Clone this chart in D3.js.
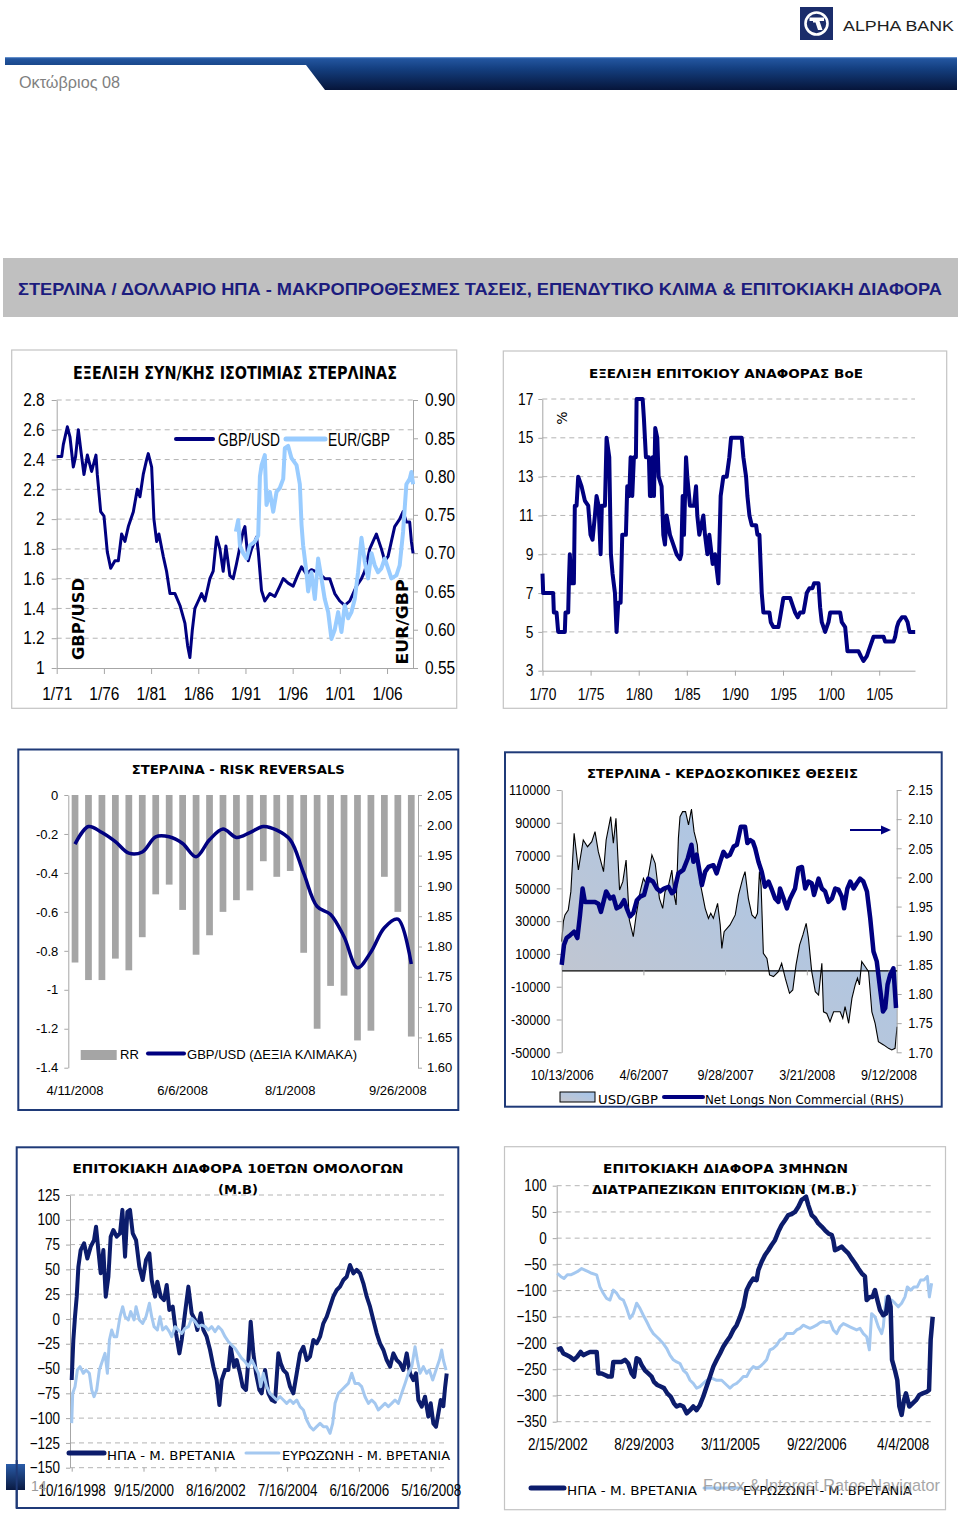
<!DOCTYPE html>
<html><head><meta charset="utf-8">
<script src="https://cdn.jsdelivr.net/npm/d3@7"></script>
<style>body{margin:0;background:#fff}svg{display:block}</style>
</head><body>
<svg id="page" width="960" height="1516"></svg>
<script>
// ================= DATA =================
// Chart 1: GBP/USD (left) & EUR/GBP (right), [year, value]
const c1LeftTicks = [1, 1.2, 1.4, 1.6, 1.8, 2, 2.2, 2.4, 2.6, 2.8];
const c1RightTicks = [0.55, 0.60, 0.65, 0.70, 0.75, 0.80, 0.85, 0.90];
const c1XTicks = [1971, 1976, 1981, 1986, 1991, 1996, 2001, 2006];
const c1XLabels = ["1/71", "1/76", "1/81", "1/86", "1/91", "1/96", "1/01", "1/06"];
const gbpusdLong = [[1971.0,2.42],[1971.53,2.42],[1971.7,2.5],[1972.13,2.62],[1972.41,2.55],[1972.76,2.35],[1973.0,2.42],[1973.29,2.6],[1973.58,2.45],[1973.89,2.3],[1974.25,2.43],[1974.7,2.32],[1975.16,2.43],[1975.3,2.3],[1975.66,2.05],[1976.01,2.02],[1976.36,1.78],[1976.72,1.67],[1977.17,1.72],[1977.53,1.72],[1977.88,1.9],[1978.23,1.85],[1978.59,1.95],[1979.12,2.05],[1979.54,2.2],[1979.82,2.15],[1980.17,2.3],[1980.53,2.4],[1980.7,2.44],[1981.06,2.35],[1981.3,2.0],[1981.59,1.85],[1981.83,1.9],[1982.29,1.75],[1982.64,1.65],[1983.0,1.5],[1983.53,1.5],[1984.06,1.42],[1984.59,1.3],[1984.87,1.15],[1985.11,1.07],[1985.36,1.25],[1985.64,1.4],[1986.0,1.45],[1986.35,1.5],[1986.7,1.45],[1987.23,1.6],[1987.58,1.65],[1987.94,1.88],[1988.29,1.8],[1988.64,1.65],[1988.93,1.82],[1989.35,1.62],[1989.7,1.6],[1990.05,1.7],[1990.76,1.92],[1990.94,1.95],[1991.29,1.72],[1991.65,1.8],[1992.18,1.88],[1992.36,1.78],[1992.7,1.52],[1993.05,1.45],[1993.58,1.5],[1994.11,1.48],[1994.64,1.55],[1995.0,1.6],[1995.52,1.57],[1996.05,1.55],[1996.58,1.63],[1996.94,1.68],[1997.46,1.63],[1997.99,1.66],[1998.7,1.64],[1999.4,1.6],[1999.93,1.6],[2000.46,1.5],[2000.99,1.45],[2001.52,1.42],[2002.05,1.45],[2002.76,1.55],[2003.29,1.6],[2003.64,1.65],[2004.17,1.8],[2004.52,1.85],[2004.87,1.9],[2005.4,1.8],[2005.76,1.72],[2006.11,1.75],[2006.46,1.85],[2006.81,1.95],[2007.34,2.0],[2007.7,2.05],[2008.05,1.98],[2008.4,1.98],[2008.58,1.85],[2008.76,1.77]];
const eurgbpLong = [[1989.98,0.728],[1990.23,0.743],[1990.41,0.71],[1990.76,0.70],[1991.11,0.693],[1991.47,0.71],[1992.0,0.715],[1992.35,0.723],[1992.53,0.80],[1992.71,0.815],[1993.05,0.828],[1993.23,0.763],[1993.58,0.78],[1993.94,0.754],[1994.29,0.78],[1994.64,0.785],[1995.0,0.797],[1995.17,0.837],[1995.52,0.84],[1995.88,0.824],[1996.41,0.815],[1996.76,0.79],[1996.94,0.737],[1997.11,0.71],[1997.46,0.675],[1997.64,0.65],[1997.99,0.675],[1998.35,0.64],[1998.7,0.693],[1999.05,0.667],[1999.4,0.64],[1999.76,0.623],[2000.11,0.588],[2000.46,0.60],[2000.82,0.623],[2001.17,0.597],[2001.52,0.632],[2001.88,0.615],[2002.23,0.623],[2002.58,0.64],[2002.93,0.675],[2003.29,0.72],[2003.64,0.689],[2003.99,0.667],[2004.35,0.70],[2004.7,0.684],[2005.05,0.675],[2005.4,0.68],[2005.76,0.693],[2006.11,0.68],[2006.46,0.667],[2006.99,0.671],[2007.34,0.684],[2007.7,0.728],[2008.05,0.79],[2008.4,0.797],[2008.58,0.806],[2008.76,0.79]];

// Chart 2: BoE base rate, [year, %]
const c2YTicks = [3, 5, 7, 9, 11, 13, 15, 17];
const c2XTicks = [1970, 1975, 1980, 1985, 1990, 1995, 2000, 2005];
const c2XLabels = ["1/70", "1/75", "1/80", "1/85", "1/90", "1/95", "1/00", "1/05"];
const boeRate = [[1970.0,8],[1970.07,7],[1971.11,7],[1971.18,6],[1971.46,6],[1971.63,5],[1972.32,5],[1972.39,6],[1972.67,6],[1972.74,7.5],[1972.84,9],[1973.02,7.5],[1973.26,7.5],[1973.36,11.5],[1973.54,11.5],[1973.71,13],[1974.06,12.5],[1974.41,11.75],[1974.75,11.5],[1974.99,10],[1975.2,9.75],[1975.45,11],[1975.62,12],[1975.83,11.5],[1976.04,9],[1976.17,11.5],[1976.49,11.5],[1976.66,15],[1976.94,14],[1977.11,9],[1977.28,8],[1977.53,7],[1977.7,5],[1977.87,6.5],[1978.12,6.5],[1978.29,10],[1978.67,10],[1978.81,12.5],[1979.02,12],[1979.16,14],[1979.33,12],[1979.5,14],[1979.71,14],[1979.78,17],[1980.41,17],[1980.54,16],[1980.75,14],[1981.06,14],[1981.17,12],[1981.34,12],[1981.45,14],[1981.59,12],[1981.72,15.5],[1981.93,15],[1982.07,13],[1982.38,12.5],[1982.56,10],[1982.73,9.5],[1982.9,11],[1983.25,10],[1983.6,9.5],[1983.94,9],[1984.29,8.75],[1984.43,9],[1984.57,12],[1984.71,10],[1984.92,14],[1985.05,13],[1985.33,11.5],[1985.75,11.5],[1985.96,12.5],[1986.09,11],[1986.3,10],[1986.72,11],[1986.89,10],[1987.14,9],[1987.34,10],[1987.69,8.5],[1987.93,9],[1988.28,7.5],[1988.52,12],[1988.8,13],[1989.15,13],[1989.42,14],[1989.6,15],[1990.71,15],[1990.88,14],[1991.16,13],[1991.3,12],[1991.51,11],[1991.75,10.5],[1992.2,10.5],[1992.34,10],[1992.55,10],[1992.79,7],[1992.96,6],[1993.59,6],[1993.73,5.5],[1994.0,5.25],[1994.52,5.25],[1994.7,5.75],[1994.87,6.25],[1995.04,6.75],[1995.74,6.75],[1996.08,6.25],[1996.26,6],[1996.53,5.75],[1996.78,6],[1997.12,6],[1997.3,6.5],[1997.47,7],[1997.75,7.25],[1998.06,7.25],[1998.23,7.5],[1998.69,7.5],[1998.86,6.25],[1999.03,5.5],[1999.38,5],[1999.73,5.5],[1999.9,6],[2000.94,6],[2001.11,5.5],[2001.46,5.25],[2001.7,4],[2002.85,4],[2003.09,3.75],[2003.37,3.5],[2003.71,3.75],[2004.06,4.25],[2004.41,4.75],[2005.45,4.75],[2005.62,4.5],[2006.49,4.5],[2006.66,4.75],[2006.84,5.25],[2007.01,5.5],[2007.36,5.75],[2007.7,5.75],[2007.95,5.5],[2008.15,5],[2008.74,5]];

// Chart 3: Risk reversals (bars, left) & GBP/USD (line, right), weekly
const rrWeeks = ["4/11/2008","4/18/2008","4/25/2008","5/2/2008","5/9/2008","5/16/2008","5/23/2008","5/30/2008","6/6/2008","6/13/2008","6/20/2008","6/27/2008","7/4/2008","7/11/2008","7/18/2008","7/25/2008","8/1/2008","8/8/2008","8/15/2008","8/22/2008","8/29/2008","9/5/2008","9/12/2008","9/19/2008","9/26/2008","10/3/2008"];
const rrLabelWeeks = ["4/11/2008","6/6/2008","8/1/2008","9/26/2008"];
const rrValues = [-0.86,-0.95,-0.95,-0.84,-0.90,-0.73,-0.51,-0.46,-0.59,-0.82,-0.72,-0.60,-0.54,-0.49,-0.34,-0.42,-0.39,-0.81,-1.20,-0.98,-1.03,-1.26,-1.21,-0.42,-0.60,-1.24];
const rrGbpusd = [1.969,1.998,1.988,1.973,1.954,1.956,1.981,1.981,1.970,1.948,1.976,1.994,1.980,1.988,1.998,1.992,1.976,1.921,1.866,1.853,1.816,1.765,1.791,1.831,1.845,1.771];
const c3LeftTicks = [0, -0.2, -0.4, -0.6, -0.8, -1, -1.2, -1.4];
const c3RightTicks = [1.60, 1.65, 1.70, 1.75, 1.80, 1.85, 1.90, 1.95, 2.00, 2.05];

// Chart 4: speculative positions (area, left) & line (right), [week index from 10/13/2006, value]
const c4LeftTicks = [-50000, -30000, -10000, 10000, 30000, 50000, 70000, 90000, 110000];
const c4RightTicks = [1.70, 1.75, 1.80, 1.85, 1.90, 1.95, 2.00, 2.05, 2.10, 2.15];
const c4XTicks = [0, 25, 50, 75, 100];
const c4XLabels = ["10/13/2006", "4/6/2007", "9/28/2007", "3/21/2008", "9/12/2008"];
const netLongs = [[0,17500],[0.5,29700],[1.0,33800],[2.0,36800],[2.8,48000],[3.8,83600],[5.1,61200],[6.6,79500],[7.9,75400],[9.2,78500],[10.2,84600],[11.2,72400],[12.8,60200],[13.6,79500],[15.0,93700],[15.8,77500],[16.6,92700],[17.7,49000],[18.7,54100],[19.7,67300],[20.7,30700],[21.9,20500],[22.8,33800],[24.0,48000],[25.0,56100],[26.0,52000],[27.6,70400],[28.6,65300],[29.9,43900],[30.9,37800],[31.6,48000],[32.7,52000],[33.7,61200],[34.4,46000],[35.0,39900],[35.7,80500],[36.2,93700],[37.0,96800],[37.9,96800],[38.8,88700],[39.7,98400],[40.5,84600],[41.5,76500],[42.3,54100],[43.9,37800],[44.9,31700],[45.6,34800],[46.4,31700],[47.7,40900],[48.5,27700],[49.0,13400],[49.7,23600],[51.5,27700],[53.1,33800],[54.1,46000],[55.4,56100],[56.1,60200],[57.1,43900],[58.2,33800],[59.2,31700],[59.9,34800],[60.5,60200],[61.0,52000],[61.7,10400],[62.8,7300],[63.6,-2800],[64.8,-3800],[66.3,-800],[67.3,4300],[68.4,-4800],[69.7,-14000],[70.7,-12000],[71.7,3300],[72.8,15500],[73.8,21600],[74.8,28700],[75.5,19500],[76.5,-800],[77.6,-13000],[78.6,-15100],[79.6,4300],[80.1,-25300],[81.1,-26300],[82.1,-31300],[83.2,-25300],[84.2,-25300],[85.2,-25300],[86.0,-29300],[86.7,-22100],[87.8,-32300],[88.8,-17100],[89.8,-8900],[90.5,-4800],[91.1,-8900],[91.8,5300],[92.9,2200],[93.9,-800],[94.9,-25300],[95.9,-32300],[96.9,-43500],[98.5,-45500],[100.0,-47600],[101.0,-48600],[102.0,-47600],[102.6,-34400]];
const usdgbpWeekly = [[0,1.85],[0.7,1.884],[1.5,1.896],[2.6,1.901],[3.8,1.907],[4.8,1.896],[5.6,1.935],[6.4,1.981],[7.1,1.958],[8.7,1.958],[10.2,1.958],[11.2,1.955],[12.0,1.941],[13.6,1.976],[14.8,1.964],[15.8,1.967],[16.8,1.947],[17.9,1.95],[19.1,1.961],[19.9,1.947],[20.9,1.933],[21.9,1.939],[23.0,1.961],[24.0,1.967],[25.2,1.97],[26.5,1.998],[27.9,1.993],[29.1,1.981],[30.1,1.976],[31.3,1.981],[32.7,1.984],[33.7,1.973],[34.4,1.976],[35.7,2.007],[37.2,2.013],[38.6,2.033],[39.7,2.056],[40.3,2.027],[41.3,2.039],[42.9,1.987],[43.9,2.01],[44.9,2.018],[46.4,2.021],[47.4,2.007],[48.5,2.027],[49.5,2.044],[50.5,2.036],[51.5,2.039],[52.6,2.053],[53.6,2.056],[54.8,2.087],[56.1,2.087],[56.8,2.059],[57.7,2.064],[58.5,2.061],[59.2,2.05],[60.2,2.027],[61.2,2.01],[62.2,1.984],[63.3,1.993],[64.3,1.979],[65.3,1.964],[66.3,1.958],[66.8,1.981],[67.7,1.967],[68.9,1.947],[69.9,1.964],[71.4,1.981],[72.4,2.016],[73.5,2.018],[74.5,1.981],[75.5,1.993],[76.5,1.99],[77.2,1.97],[78.6,1.998],[79.6,1.981],[80.6,1.976],[81.6,1.958],[82.7,1.964],[83.7,1.981],[84.7,1.979],[85.7,1.967],[86.4,1.947],[87.4,1.981],[88.3,1.993],[89.3,1.981],[90.3,1.99],[91.3,1.998],[92.3,1.993],[93.4,1.976],[94.4,1.93],[95.4,1.873],[96.4,1.856],[97.4,1.81],[98.3,1.77],[99.0,1.776],[99.7,1.816],[100.5,1.833],[101.5,1.844],[102.3,1.776]];

// Chart 5: 10y bond spreads (bp), [week index from 10/16/1998, value]
const c5YTicks = [-150, -125, -100, -75, -50, -25, 0, 25, 50, 75, 100, 125];
const c5XTicks = [0, 100, 200, 300, 400, 500];
const c5XLabels = ["10/16/1998", "9/15/2000", "8/16/2002", "7/16/2004", "6/16/2006", "5/16/2008"];
const us10Spread = [[0,-61.6],[2.3,-21],[4.6,2.3],[7.0,22.5],[9.3,52.7],[12.5,69.5],[17.2,76.3],[21.8,61],[26.5,72.9],[31.1,79.6],[33.9,93],[37.1,69.5],[40.4,46],[44.1,69.5],[47.4,22.5],[51.1,42.6],[54.3,83],[58.0,89.7],[62.7,83],[67.3,86.3],[70.6,110],[74.3,62.8],[77.5,108],[81.2,110],[85.0,86.3],[89.6,79.6],[94.2,52.7],[98.9,39.3],[103.5,59.5],[108.2,66.2],[111.4,39.3],[116.1,22.5],[119.3,37.6],[124.0,22.5],[128.6,19.1],[132.3,34.2],[136.0,9.1],[140.7,12.4],[145.3,-14.5],[150.0,-34.7],[153.2,-21.2],[157.8,5.7],[162.5,32.6],[167.1,5.7],[171.8,-1],[175.0,-11.1],[179.7,5.7],[183.4,-11.1],[188.0,-17.9],[192.7,-31.3],[197.3,-48.1],[201.9,-61.6],[205.7,-86.8],[208.9,-61.6],[213.6,-51.5],[218.2,-51.5],[221.4,-28],[226.1,-48.1],[229.8,-41.4],[234.4,-54.8],[238.2,-68.3],[242.8,-71.6],[246.1,-41.4],[249.3,-2.7],[253.0,-34.7],[256.7,-54.8],[261.4,-71.6],[264.6,-75],[269.3,-51.5],[273.9,-75],[278.6,-81.7],[283.2,-83.4],[287.8,-34.7],[291.1,-44.7],[294.8,-51.5],[299.4,-54.8],[304.1,-68.3],[308.7,-75],[313.4,-54.8],[318.0,-34.7],[322.7,-28],[327.3,-41.4],[331.9,-38],[336.6,-21.2],[341.2,-24.6],[345.9,-17.9],[350.5,-4.4],[355.2,2.3],[359.8,12.4],[364.4,22.5],[369.1,29.2],[373.7,32.6],[378.4,39.3],[383.0,42.6],[387.6,54.4],[392.3,46],[396.9,49.4],[401.6,46],[406.2,35.9],[410.9,22.5],[415.5,12.4],[420.1,-1],[424.8,-14.5],[429.4,-24.6],[434.1,-31.3],[438.7,-41.4],[443.4,-48.1],[448.0,-34.7],[452.6,-41.4],[457.3,-44.7],[461.9,-51.5],[466.6,-34.7],[471.2,-54.8],[475.9,-61.6],[479.6,-54.8],[482.8,-81.7],[487.5,-88.4],[492.1,-78.4],[496.7,-98.5],[500.0,-85.1],[503.7,-105.3],[507.4,-108.6],[510.7,-95.2],[513.9,-81.7],[517.6,-88],[519.9,-70],[522.3,-55]];
const eu10Spread = [[0,-105],[1.4,-75],[4.6,-68.3],[7.9,-51.5],[11.6,-48.1],[16.2,-54.8],[20.0,-51.5],[24.6,-54.8],[27.9,-71.6],[31.1,-78.4],[34.8,-71.6],[38.5,-51.5],[43.2,-41.4],[46.4,-34.7],[49.7,-54.8],[52.5,-21.2],[55.7,-11.1],[59.0,-17.9],[62.7,-17.9],[67.3,2.3],[71.0,12.4],[74.3,2.3],[78.9,-1],[82.2,7.4],[86.8,-1],[89.6,12.4],[94.2,-1],[98.9,-4.4],[103.5,2.3],[108.2,15.8],[111.4,2.3],[114.7,-7.8],[119.3,-11.1],[123.0,2.3],[126.7,-11.1],[131.4,-7.8],[136.0,-12.8],[139.3,-17.9],[143.9,-7.8],[148.6,-11.1],[153.2,-14.5],[157.8,-9.5],[162.5,-7.8],[167.1,0.6],[171.8,-2.7],[176.4,-7.8],[181.1,-6.1],[185.7,-7.8],[190.3,-11.1],[195.0,-7.8],[199.6,-12.8],[204.3,-7.8],[208.9,-11.1],[213.6,-17.9],[218.2,-22.9],[222.8,-26.3],[227.5,-29.6],[232.1,-34.7],[236.8,-39.7],[241.4,-43],[246.1,-48.1],[250.7,-41.4],[255.3,-48.1],[260.0,-54.8],[263.2,-68.3],[266.9,-54.8],[271.6,-68.3],[276.2,-75],[280.9,-78.4],[285.5,-81.7],[290.2,-78.4],[294.8,-81.7],[299.4,-85.1],[304.1,-81.7],[308.7,-85.1],[313.4,-81.7],[318.0,-88.4],[322.7,-91.8],[327.3,-101.9],[331.9,-108.6],[336.6,-112],[341.2,-108.6],[345.9,-105.3],[350.5,-108.6],[355.2,-108.6],[359.8,-115.3],[363.5,-105.3],[366.8,-85.1],[371.4,-75],[376.0,-71.6],[380.7,-68.3],[385.3,-65],[390.0,-54.8],[394.6,-65],[399.3,-65],[403.9,-68.3],[408.5,-78.4],[413.2,-85.1],[417.8,-81.7],[422.5,-85.1],[427.1,-91.8],[431.8,-88.4],[436.4,-85.1],[441.0,-88.4],[445.7,-85.1],[450.3,-81.7],[455.0,-85.1],[459.6,-75],[464.3,-65],[468.9,-54.8],[473.6,-48.1],[478.2,-28],[481.4,-41.4],[485.1,-54.8],[489.8,-48.1],[494.4,-54.8],[498.1,-51.5],[502.8,-61.6],[507.4,-51.5],[512.1,-41.4],[515.3,-31.3],[517.6,-41.4],[521.4,-51.5]];

// Chart 6: 3m interbank spreads (bp), [week index from 2/15/2002, value]
const c6YTicks = [-350, -300, -250, -200, -150, -100, -50, 0, 50, 100];
const c6XTicks = [0, 80, 160, 240, 320];
const c6XLabels = ["2/15/2002", "8/29/2003", "3/11/2005", "9/22/2006", "4/4/2008"];
const us3mSpread = [[0,-213],[3.1,-210],[5.6,-220],[8.6,-223],[11.7,-226],[15.4,-232],[18.5,-226],[21.6,-217],[24.1,-223],[27.2,-220],[30.3,-217],[34.0,-217],[36.5,-217],[38.0,-258],[41.1,-258],[44.2,-261],[47.3,-264],[50.4,-264],[51.9,-236],[55.0,-236],[59.6,-236],[62.7,-232],[65.8,-239],[68.9,-258],[71.1,-264],[73.5,-229],[76.0,-232],[78.2,-242],[81.2,-252],[84.3,-258],[87.4,-264],[89.6,-274],[92.7,-280],[95.8,-283],[98.9,-286],[101.9,-296],[105.0,-302],[108.1,-315],[110.6,-321],[113.7,-318],[116.8,-321],[119.9,-334],[123.0,-328],[126.0,-321],[129.1,-328],[132.2,-318],[135.3,-302],[138.4,-283],[141.5,-264],[144.6,-245],[147.7,-232],[150.8,-220],[153.8,-207],[156.9,-197],[160.0,-188],[163.1,-175],[166.2,-166],[169.3,-150],[172.4,-131],[175.5,-99],[178.6,-86],[181.6,-77],[184.7,-80],[186.3,-61],[189.4,-45],[192.5,-32],[195.6,-23],[198.6,-13],[201.7,-4],[204.8,12],[207.9,25],[211.0,34],[214.1,44],[217.2,46],[220.3,50],[223.4,60],[226.4,73],[228.6,76],[230.5,79],[232.6,63],[235.7,44],[238.8,38],[241.9,28],[245.0,22],[248.1,15],[251.2,9],[254.3,6],[255.8,-4],[257.3,-23],[260.4,-20],[263.5,-16],[266.6,-23],[269.7,-29],[272.8,-39],[275.9,-48],[279.0,-58],[282.1,-67],[285.1,-73],[286.7,-118],[289.8,-112],[292.2,-112],[294.4,-99],[296.6,-118],[299.0,-137],[302.1,-147],[304.6,-144],[306.8,-112],[308.9,-131],[310.2,-232],[312.9,-252],[315.1,-271],[317.0,-321],[319.1,-337],[321.3,-309],[323.1,-296],[326.2,-321],[329.3,-315],[332.4,-309],[335.5,-299],[338.6,-296],[342.3,-293],[344.5,-290],[346.0,-194],[347.9,-150]];
const eu3mSpread = [[0,-67],[3.1,-73],[6.2,-77],[9.3,-70],[12.4,-70],[15.4,-67],[18.5,-64],[22.6,-58],[25.6,-61],[28.7,-64],[31.8,-67],[36.5,-70],[39.5,-93],[42.6,-105],[45.7,-115],[48.8,-118],[51.9,-99],[55.0,-105],[58.1,-115],[61.2,-118],[64.3,-134],[67.3,-153],[70.4,-144],[73.5,-124],[76.6,-134],[79.7,-147],[82.8,-159],[85.9,-172],[89.0,-182],[92.1,-188],[95.1,-194],[98.2,-201],[101.3,-210],[104.4,-223],[107.5,-232],[110.6,-236],[113.7,-239],[116.8,-252],[119.9,-258],[123.0,-271],[126.0,-277],[129.1,-286],[132.2,-283],[135.3,-277],[138.4,-271],[143.0,-267],[147.7,-271],[152.3,-271],[156.9,-280],[160.0,-286],[163.1,-280],[166.2,-277],[169.3,-271],[172.4,-264],[175.5,-264],[178.6,-252],[181.6,-245],[184.7,-248],[187.8,-245],[190.9,-239],[194.0,-232],[197.1,-213],[200.2,-210],[203.3,-204],[206.4,-194],[209.5,-191],[212.5,-182],[215.6,-182],[218.7,-182],[221.8,-175],[224.9,-172],[228.0,-166],[231.1,-169],[234.2,-172],[237.3,-169],[240.3,-166],[243.4,-161],[246.5,-159],[249.6,-161],[252.7,-159],[255.8,-175],[258.9,-182],[262.0,-169],[265.1,-163],[268.1,-166],[271.2,-169],[274.3,-172],[277.4,-175],[280.5,-172],[283.6,-182],[286.7,-188],[289.2,-213],[291.3,-144],[294.4,-150],[297.5,-169],[300.6,-182],[302.1,-169],[304.6,-112],[306.8,-118],[309.9,-118],[312.9,-124],[316.0,-131],[319.1,-124],[322.2,-112],[324.4,-93],[327.5,-99],[330.6,-93],[333.6,-93],[336.7,-80],[339.8,-80],[342.9,-73],[344.8,-112],[346.9,-86]];

// ================= DRAWING =================
const svg = d3.select('#page');
const ARIAL = "'Liberation Sans',Arial,Helvetica,sans-serif";
const DV = "'DejaVu Sans',Verdana,sans-serif";
const DVC = "'DejaVu Sans Condensed','DejaVu Sans',sans-serif";
const NAVY = '#000080', LBLUE = '#99ccff', AXC = '#a6a6a6', GRIDC = '#b4b4b4';

const defs = svg.append('defs');
function vgrad(id, stops) {
  const gr = defs.append('linearGradient').attr('id', id).attr('x1', 0).attr('y1', 0).attr('x2', 0).attr('y2', 1);
  stops.forEach(s => gr.append('stop').attr('offset', s[0]).attr('stop-color', s[1]));
}
vgrad('bandGrad', [[0, '#7ea6dc'], [0.05, '#2356a0'], [0.35, '#143f80'], [1, '#06153a']]);
vgrad('sqGrad', [[0, '#2a5ca8'], [1, '#0a1a42']]);
defs.append('linearGradient').attr('id', 'areaGrad').attr('x1', 0).attr('y1', 1).attr('x2', 1).attr('y2', 0)
  .call(g => { g.append('stop').attr('offset', 0).attr('stop-color', '#c6c6cc'); g.append('stop').attr('offset', 1).attr('stop-color', '#a4c6ee'); });

function txt(g, x, y, s, o = {}) {
  const t = g.append('text').attr('x', x).attr('y', y).text(s)
    .attr('font-family', o.family || ARIAL).attr('font-size', o.size || 13)
    .attr('font-weight', o.weight || 'normal').attr('fill', o.fill || '#000')
    .attr('text-anchor', o.anchor || 'start');
  if (o.len) t.attr('textLength', o.len).attr('lengthAdjust', 'spacingAndGlyphs');
  if (o.rotate) t.attr('transform', `rotate(${o.rotate},${x},${y})`);
  if (o.opacity) t.attr('opacity', o.opacity);
  if (o.baseline) t.attr('dominant-baseline', o.baseline);
  return t;
}
// narrow-font emulation: compress each label horizontally
function narrow(sel, f) {
  sel.each(function () {
    const w = this.getComputedTextLength();
    d3.select(this).attr('textLength', (w * f).toFixed(2)).attr('lengthAdjust', 'spacingAndGlyphs');
  });
}
function styleAxis(a, family, size, nf) {
  a.attr('font-family', family).attr('font-size', size);
  a.selectAll('text').attr('fill', '#000');
  a.selectAll('line').attr('stroke', AXC);
  a.select('.domain').attr('stroke', AXC);
  if (nf) narrow(a.selectAll('text'), nf);
  return a;
}
function grid(g, y, ticks, x0, x1) {
  g.append('g').selectAll('line').data(ticks).join('line')
    .attr('x1', x0).attr('x2', x1).attr('y1', d => y(d)).attr('y2', d => y(d))
    .attr('stroke', GRIDC).attr('stroke-width', 1).attr('stroke-dasharray', '5,4');
}
function frame(x, y, w, h, color, sw) {
  svg.append('rect').attr('x', x).attr('y', y).attr('width', w).attr('height', h)
    .attr('fill', '#fff').attr('stroke', color).attr('stroke-width', sw);
}
function legLine(g, x1, x2, y, color, w) {
  g.append('line').attr('x1', x1).attr('x2', x2).attr('y1', y).attr('y2', y)
    .attr('stroke', color).attr('stroke-width', w).attr('stroke-linecap', 'round');
}

// ---------- Header ----------
{
  const g = svg.append('g');
  g.append('rect').attr('x', 800).attr('y', 7).attr('width', 33).attr('height', 33).attr('fill', '#1b2d6b');
  g.append('circle').attr('cx', 816.5).attr('cy', 23.5).attr('r', 11).attr('fill', 'none').attr('stroke', '#fff').attr('stroke-width', 2.6);
  g.append('path').attr('d', 'M809.5,17.5 L824,17.5 L824,21 L819.5,21 L822.5,30 L818,30 L815.5,22.5 L813,22.5 L813,21 L809.5,21 Z').attr('fill', '#fff');
  txt(g, 843, 30.5, 'ALPHA BANK', { size: 14.5, fill: '#1e1e1e', len: 111 });
  g.append('path').attr('d', 'M5,57 L957,57 L957,90 L325,90 L306,65 L5,65 Z').attr('fill', 'url(#bandGrad)');
  txt(g, 19, 88, 'Οκτώβριος 08', { size: 17, fill: '#7f7f7f', len: 101 });
  g.append('rect').attr('x', 3).attr('y', 258).attr('width', 955).attr('height', 59).attr('fill', '#c0c0c0');
  txt(g, 480, 294.5, 'ΣΤΕΡΛΙΝΑ / ΔΟΛΛΑΡΙΟ ΗΠΑ - ΜΑΚΡΟΠΡΟΘΕΣΜΕΣ ΤΑΣΕΙΣ, ΕΠΕΝΔΥΤΙΚΟ ΚΛΙΜΑ & ΕΠΙΤΟΚΙΑΚΗ ΔΙΑΦΟΡΑ',
    { size: 17, weight: 'bold', fill: '#1c1c7e', anchor: 'middle', len: 924 });
}

// ---------- Chart 1 ----------
frame(11.7, 350, 445, 358.3, '#c4c4c4', 1.2);
{
  const g = svg.append('g');
  const x = d3.scaleLinear().domain([1971, 2008.75]).range([56.7, 413]);
  const yL = d3.scaleLinear().domain([1, 2.8]).range([668, 400]);
  const yR = d3.scaleLinear().domain([0.55, 0.90]).range([668, 400]);
  grid(g, yL, c1LeftTicks.filter(v => v > 1), 56.7, 413);
  styleAxis(g.append('g').attr('transform', 'translate(56.7,0)')
    .call(d3.axisLeft(yL).tickValues(c1LeftTicks).tickFormat(d => String(Math.round(d * 10) / 10)).tickSize(5).tickPadding(7).tickSizeOuter(0)), ARIAL, 18, 0.86);
  styleAxis(g.append('g').attr('transform', 'translate(413,0)')
    .call(d3.axisRight(yR).tickValues(c1RightTicks).tickFormat(d3.format('.2f')).tickSize(5).tickPadding(7).tickSizeOuter(0)), ARIAL, 18, 0.86);
  styleAxis(g.append('g').attr('transform', 'translate(0,668)')
    .call(d3.axisBottom(x).tickValues(c1XTicks).tickFormat((d, i) => c1XLabels[i]).tickSize(6).tickPadding(13).tickSizeOuter(0)), ARIAL, 18, 0.86);
  g.append('path').datum(gbpusdLong).attr('fill', 'none').attr('stroke', NAVY).attr('stroke-width', 3).attr('stroke-linejoin', 'round')
    .attr('d', d3.line().x(d => x(d[0])).y(d => yL(d[1])));
  g.append('path').datum(eurgbpLong).attr('fill', 'none').attr('stroke', LBLUE).attr('stroke-width', 4).attr('stroke-linejoin', 'round')
    .attr('d', d3.line().x(d => x(d[0])).y(d => yR(d[1])));
  legLine(g, 176, 213, 439, NAVY, 4);
  txt(g, 218, 446, 'GBP/USD', { size: 18, len: 62 });
  legLine(g, 286, 325, 439, LBLUE, 5);
  txt(g, 328, 446, 'EUR/GBP', { size: 18, len: 62 });
  txt(g, 84, 619, 'GBP/USD', { family: DV, size: 15, weight: 'bold', anchor: 'middle', rotate: -90, len: 82 });
  txt(g, 407.5, 622, 'EUR/GBP', { family: DV, size: 15, weight: 'bold', anchor: 'middle', rotate: -90, len: 85 });
  txt(g, 235, 378.5, 'ΕΞΕΛΙΞΗ ΣΥΝ/ΚΗΣ ΙΣΟΤΙΜΙΑΣ ΣΤΕΡΛΙΝΑΣ', { family: DVC, size: 17, weight: 'bold', anchor: 'middle', len: 324 });
}

// ---------- Chart 2 ----------
frame(503.3, 351, 443.4, 357.3, '#c4c4c4', 1.2);
{
  const g = svg.append('g');
  const x = d3.scaleLinear().domain([1970, 2008.72]).range([542.5, 915]);
  const y = d3.scaleLinear().domain([3, 17]).range([670.7, 399]);
  grid(g, y, c2YTicks.filter(v => v > 3), 542.3, 915);
  styleAxis(g.append('g').attr('transform', 'translate(542.3,0)')
    .call(d3.axisLeft(y).tickValues(c2YTicks).tickSize(4).tickPadding(5).tickSizeOuter(0)), ARIAL, 16, 0.86);
  styleAxis(g.append('g').attr('transform', 'translate(0,670.7)')
    .call(d3.axisBottom(x).tickValues(c2XTicks).tickFormat((d, i) => c2XLabels[i]).tickSize(5).tickPadding(13).tickSizeOuter(0)), ARIAL, 16, 0.86);
  g.append('path').datum(boeRate).attr('fill', 'none').attr('stroke', NAVY).attr('stroke-width', 4).attr('stroke-linejoin', 'round')
    .attr('d', d3.line().x(d => x(d[0])).y(d => y(d[1])));
  txt(g, 562, 418, '%', { family: DV, size: 14, anchor: 'middle', rotate: -90, baseline: 'central' });
  txt(g, 726, 377.5, 'ΕΞΕΛΙΞΗ ΕΠΙΤΟΚΙΟΥ ΑΝΑΦΟΡΑΣ BoE', { family: DV, size: 13, weight: 'bold', anchor: 'middle', len: 274 });
}

// ---------- Chart 3 ----------
frame(18.3, 749.5, 440, 360.5, '#1f3a78', 2);
{
  const g = svg.append('g');
  const x = d3.scaleBand().domain(rrWeeks).range([68.3, 418]).paddingInner(0.5).paddingOuter(0.25);
  const yL = d3.scaleLinear().domain([-1.4, 0]).range([1067.7, 795]);
  const yR = d3.scaleLinear().domain([1.60, 2.05]).range([1067.7, 795]);
  g.append('g').selectAll('rect').data(rrValues).join('rect')
    .attr('x', (d, i) => x(rrWeeks[i])).attr('width', x.bandwidth())
    .attr('y', yL(0)).attr('height', d => yL(d) - yL(0)).attr('fill', '#a5a5a5');
  styleAxis(g.append('g').attr('transform', 'translate(68.3,0)')
    .call(d3.axisLeft(yL).tickValues(c3LeftTicks).tickFormat(d => String(Math.round(d * 10) / 10)).tickSize(4).tickPadding(6).tickSizeOuter(0)), ARIAL, 13);
  styleAxis(g.append('g').attr('transform', 'translate(418,0)')
    .call(d3.axisRight(yR).tickValues(c3RightTicks).tickFormat(d3.format('.2f')).tickSize(4).tickPadding(5).tickSizeOuter(0)), ARIAL, 13);
  const bx = g.append('g').attr('transform', 'translate(0,1067.7)')
    .call(d3.axisBottom(x).tickValues(rrLabelWeeks).tickSize(0).tickPadding(18));
  styleAxis(bx, ARIAL, 13); bx.select('.domain').remove();
  g.append('path').datum(rrGbpusd).attr('fill', 'none').attr('stroke', NAVY).attr('stroke-width', 3.5).attr('stroke-linejoin', 'round')
    .attr('d', d3.line().x((d, i) => x(rrWeeks[i]) + x.bandwidth() / 2).y(d => yR(d)).curve(d3.curveCatmullRom.alpha(0.5)));
  g.append('rect').attr('x', 80.7).attr('y', 1050).attr('width', 36).attr('height', 10).attr('fill', '#a5a5a5');
  txt(g, 120, 1059, 'RR', { size: 13 });
  legLine(g, 148, 184, 1053.5, NAVY, 4);
  txt(g, 187, 1059, 'GBP/USD (ΔΕΞΙΑ ΚΛΙΜΑΚΑ)', { size: 13, len: 170 });
  txt(g, 238.3, 773.5, 'ΣΤΕΡΛΙΝΑ - RISK REVERSALS', { family: DV, size: 13, weight: 'bold', anchor: 'middle', len: 213 });
}

// ---------- Chart 4 ----------
frame(505, 752.3, 436.7, 354.4, '#1f3a78', 2);
{
  const g = svg.append('g');
  const x = d3.scaleLinear().domain([0, 102.5]).range([561.7, 896.7]);
  const yL = d3.scaleLinear().domain([-50000, 110000]).range([1052.3, 790]);
  const yR = d3.scaleLinear().domain([1.70, 2.15]).range([1052.3, 790]);
  g.append('path').datum(netLongs).attr('fill', 'url(#areaGrad)')
    .attr('d', d3.area().x(d => x(d[0])).y0(yL(0)).y1(d => yL(d[1])));
  g.append('path').datum(netLongs).attr('fill', 'none').attr('stroke', '#000').attr('stroke-width', 1.1)
    .attr('d', d3.line().x(d => x(d[0])).y(d => yL(d[1])));
  styleAxis(g.append('g').attr('transform', 'translate(561.7,0)')
    .call(d3.axisLeft(yL).tickValues(c4LeftTicks).tickFormat(d => String(d)).tickSize(5).tickPadding(6.5).tickSizeOuter(0)), ARIAL, 15, 0.84);
  styleAxis(g.append('g').attr('transform', 'translate(896.7,0)')
    .call(d3.axisRight(yR).tickValues(c4RightTicks).tickFormat(d3.format('.2f')).tickSize(5).tickPadding(6.5).tickSizeOuter(0)), ARIAL, 15, 0.84);
  const zx = g.append('g').attr('transform', `translate(0,${yL(0)})`)
    .call(d3.axisBottom(x).tickValues(c4XTicks.slice(1)).tickFormat('').tickSize(5).tickSizeOuter(0));
  zx.selectAll('line').attr('stroke', AXC);
  zx.select('.domain').attr('stroke', '#000').attr('stroke-width', 1.3);
  const bx = g.append('g').attr('transform', 'translate(0,1052.3)')
    .call(d3.axisBottom(x).tickValues(c4XTicks).tickFormat((d, i) => c4XLabels[i]).tickSize(0).tickPadding(17));
  styleAxis(bx, ARIAL, 15, 0.84); bx.select('.domain').remove();
  g.append('path').datum(usdgbpWeekly).attr('fill', 'none').attr('stroke', NAVY).attr('stroke-width', 4.5).attr('stroke-linejoin', 'round')
    .attr('d', d3.line().x(d => x(d[0])).y(d => yR(d[1])));
  g.append('line').attr('x1', 850).attr('x2', 882).attr('y1', 830).attr('y2', 830).attr('stroke', NAVY).attr('stroke-width', 2);
  g.append('path').attr('d', 'M891,830 L881,825.5 L881,834.5 Z').attr('fill', NAVY);
  g.append('rect').attr('x', 560).attr('y', 1092).attr('width', 35).attr('height', 10).attr('fill', 'url(#areaGrad)').attr('stroke', '#000').attr('stroke-width', 1);
  txt(g, 598, 1103.5, 'USD/GBP', { family: DV, size: 12.5, len: 60 });
  legLine(g, 664, 703, 1097, NAVY, 4);
  txt(g, 705, 1103.5, 'Net Longs Non Commercial (RHS)', { family: DV, size: 12.5, len: 199 });
  txt(g, 722.5, 777.5, 'ΣΤΕΡΛΙΝΑ - ΚΕΡΔΟΣΚΟΠΙΚΕΣ ΘΕΣΕΙΣ', { family: DV, size: 13, weight: 'bold', anchor: 'middle', len: 271 });
}

// ---------- Chart 5 ----------
frame(16.7, 1147.3, 441.6, 360.7, '#1f3a78', 2);
{
  const g = svg.append('g');
  const x = d3.scaleLinear().domain([0, 500]).range([71.7, 430.7]);
  const y = d3.scaleLinear().domain([-150, 125]).range([1467.7, 1195]);
  grid(g, y, c5YTicks, 70, 445);
  styleAxis(g.append('g').attr('transform', 'translate(70,0)')
    .call(d3.axisLeft(y).tickValues(c5YTicks).tickSize(4).tickPadding(6).tickSizeOuter(0)), ARIAL, 16, 0.84);
  const bx = g.append('g').attr('transform', 'translate(0,1467.7)')
    .call(d3.axisBottom(x).tickValues(c5XTicks).tickFormat((d, i) => c5XLabels[i]).tickSize(4).tickPadding(13));
  styleAxis(bx, ARIAL, 16, 0.84); bx.select('.domain').remove();
  g.append('path').datum(us10Spread).attr('fill', 'none').attr('stroke', '#0c1c6c').attr('stroke-width', 4).attr('stroke-linejoin', 'round')
    .attr('d', d3.line().x(d => x(d[0])).y(d => y(d[1])));
  g.append('path').datum(eu10Spread).attr('fill', 'none').attr('stroke', '#a4c8f0').attr('stroke-width', 3).attr('stroke-linejoin', 'round')
    .attr('d', d3.line().x(d => x(d[0])).y(d => y(d[1])));
  legLine(g, 69, 104, 1453, '#0c1c6c', 5);
  txt(g, 107, 1459.5, 'ΗΠΑ - Μ. ΒΡΕΤΑΝΙΑ', { family: DV, size: 12.5, len: 128 });
  legLine(g, 246, 279, 1453, '#a4c8f0', 3);
  txt(g, 282, 1459.5, 'ΕΥΡΩΖΩΝΗ - Μ. ΒΡΕΤΑΝΙΑ', { family: DV, size: 12.5, len: 168 });
  txt(g, 238, 1172.5, 'ΕΠΙΤΟΚΙΑΚΗ ΔΙΑΦΟΡΑ 10ΕΤΩΝ ΟΜΟΛΟΓΩΝ', { family: DV, size: 13, weight: 'bold', anchor: 'middle', len: 331 });
  txt(g, 238, 1194, '(Μ.Β)', { family: DV, size: 13, weight: 'bold', anchor: 'middle', len: 40 });
}
// page marker
svg.append('rect').attr('x', 6).attr('y', 1464).attr('width', 19).attr('height', 26).attr('fill', 'url(#sqGrad)');
svg.append('line').attr('x1', 16.7).attr('x2', 16.7).attr('y1', 1460).attr('y2', 1508).attr('stroke', '#1f3a78').attr('stroke-width', 2);
txt(svg, 31, 1491, '14', { size: 14, fill: '#9a9a9a' });

// ---------- Chart 6 ----------
frame(504.5, 1146.7, 441, 363, '#c4c4c4', 1.2);
{
  const g = svg.append('g');
  const x = d3.scaleLinear().domain([0, 320]).range([557.3, 902.6]);
  const y = d3.scaleLinear().domain([-350, 100]).range([1421.7, 1185.7]);
  grid(g, y, c6YTicks, 556.7, 931.7);
  styleAxis(g.append('g').attr('transform', 'translate(556.7,0)')
    .call(d3.axisLeft(y).tickValues(c6YTicks).tickSize(4).tickPadding(6).tickSizeOuter(0)), ARIAL, 16, 0.84);
  const bx = g.append('g').attr('transform', 'translate(0,1421.7)')
    .call(d3.axisBottom(x).tickValues(c6XTicks).tickFormat((d, i) => c6XLabels[i]).tickSize(0).tickPadding(17));
  styleAxis(bx, ARIAL, 16, 0.84); bx.select('.domain').remove();
  g.append('path').datum(eu3mSpread).attr('fill', 'none').attr('stroke', '#a4c8f0').attr('stroke-width', 3).attr('stroke-linejoin', 'round')
    .attr('d', d3.line().x(d => x(d[0])).y(d => y(d[1])));
  g.append('path').datum(us3mSpread).attr('fill', 'none').attr('stroke', '#0c1c6c').attr('stroke-width', 4.5).attr('stroke-linejoin', 'round')
    .attr('d', d3.line().x(d => x(d[0])).y(d => y(d[1])));
  legLine(g, 531, 564, 1488, '#0c1c6c', 5);
  txt(g, 567, 1494.5, 'ΗΠΑ - Μ. ΒΡΕΤΑΝΙΑ', { family: DV, size: 12.5, len: 130 });
  legLine(g, 704, 741, 1488, '#a4c8f0', 3);
  txt(g, 743, 1494.5, 'ΕΥΡΩΖΩΝΗ - Μ. ΒΡΕΤΑΝΙΑ', { family: DV, size: 12.5, len: 169 });
  txt(g, 703, 1490.5, 'Forex & Interest Rates Navigator', { size: 17, fill: '#8a8a8a', len: 237, opacity: 0.75 });
  txt(g, 725.5, 1172.5, 'ΕΠΙΤΟΚΙΑΚΗ ΔΙΑΦΟΡΑ 3ΜΗΝΩΝ', { family: DV, size: 13, weight: 'bold', anchor: 'middle', len: 245 });
  txt(g, 724.5, 1194, 'ΔΙΑΤΡΑΠΕΖΙΚΩΝ ΕΠΙΤΟΚΙΩΝ (Μ.Β.)', { family: DV, size: 13, weight: 'bold', anchor: 'middle', len: 265 });
}
</script>
</body></html>
